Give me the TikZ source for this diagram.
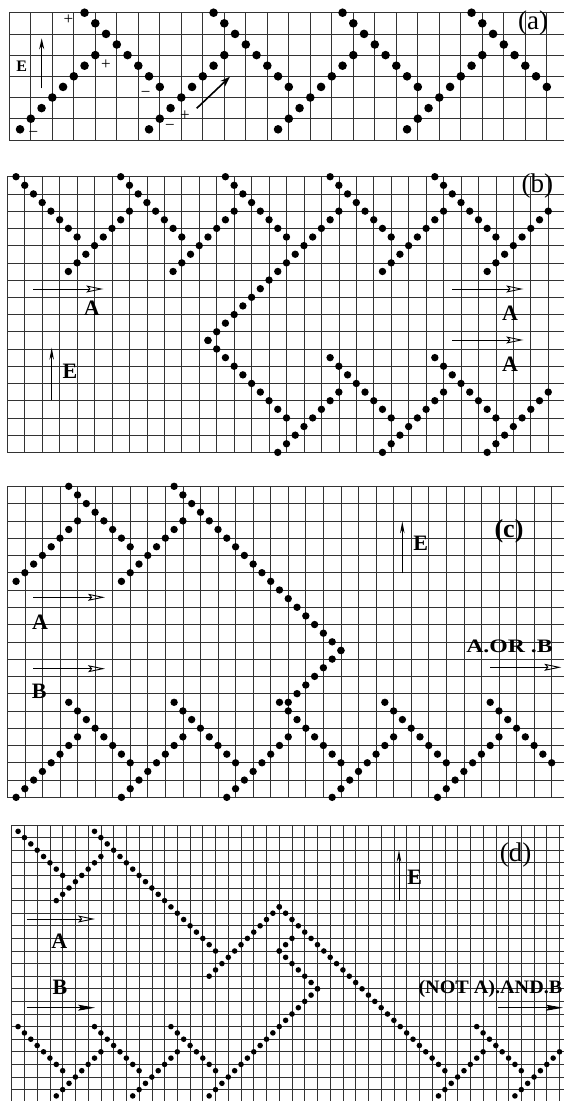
\documentclass[tikz,border=0pt]{standalone}
\usepackage{fontspec}
\setmainfont{Liberation Serif}
\usetikzlibrary{arrows.meta}
\tikzset{
  gridline/.style={line width=0.65pt, black!80},
  lbl/.style={font=\bfseries\fontsize{22}{22}\selectfont, inner sep=0pt},
  elbl/.style={font=\bfseries\fontsize{22}{22}\selectfont, inner sep=0pt},
  panellbl/.style={font=\fontsize{27}{27}\selectfont, inner sep=0pt},
  sgn/.style={font=\fontsize{17}{17}\selectfont, inner sep=0pt},
  sigarrow/.style={line width=0.9pt, -{Stealth[open,length=17pt,width=7pt,inset=3pt]}},
  fillarrow/.style={line width=0.9pt, -{Stealth[length=17pt,width=6pt,inset=3pt]}},
  earrow/.style={line width=1pt, -{Stealth[length=12pt,width=4.5pt]}},
}
\newcommand\upchain[3]{\foreach \i in {1,...,#3}{\fill (#1+0.5*\i-0.5, #2-0.5*\i+0.5) circle[radius=\dotr];}}
\newcommand\dnchain[3]{\foreach \i in {1,...,#3}{\fill (#1+0.5*\i-0.5, #2+0.5*\i-0.5) circle[radius=\dotr];}}
\begin{document}
\begin{tikzpicture}[x=1pt,y=-1pt]
\clip (0,0) rectangle (564,1101);
\fill[white] (0,0) rectangle (564,1101);
% ---------------- panel (a)
\begin{scope}[shift={(9.3,12.7)}, x=21.5pt, y=-21.2pt]
  \def\dotr{4.3pt}
  \foreach \c in {0,...,25} \draw[gridline] (\c,0) -- (\c,6);
  \foreach \r in {0,...,6} \draw[gridline] (0,\r) -- (27,\r);
  \foreach \k in {0,6,12,18} {\upchain{0.5+\k}{5.5}{8} \dnchain{3.5+\k}{0}{8}}
\end{scope}
\node[font=\bfseries\fontsize{16}{16}\selectfont, inner sep=0pt] (Ea) at (21.7,66) {E};
\coordinate (Ea0) at (41.7,88.3); \coordinate (Ea1) at (41.7,38.3);
\draw[line width=1.4pt, -{Stealth[length=11pt,width=5pt]}] (Ea0) -- (Ea1);
\coordinate (da0) at (196.7,108.3); \coordinate (da1) at (230,76.7);
\draw[line width=1.6pt, -{Stealth[length=10pt,width=7pt]}] (da0) -- (da1);
\node[panellbl] (pa) at (533,23) {(a)};
\node[sgn] (s1) at (68.3,20) {+};
\node[sgn] (s2) at (106,65) {+};
\node[sgn] (s3) at (33.3,134) {−};
\node[sgn] (s4) at (145.7,94.3) {−};
\node[sgn] (s5) at (170,127.7) {−};
\node[sgn] (s6) at (185,115.7) {+};
% ---------------- panel (b)
\begin{scope}[shift={(7.3,176.7)}, x=17.45pt, y=-17.23pt]
  \def\dotr{3.7pt}
  \foreach \c in {0,...,31} \draw[gridline] (\c,0) -- (\c,16);
  \foreach \r in {0,...,16} \draw[gridline] (0,\r) -- (33,\r);
  \foreach \k in {0,6,12,18,24} {\dnchain{0.5+\k}{0}{8}}
  \upchain{3.5}{5.5}{8} \upchain{9.5}{5.5}{8} \upchain{11.5}{9.5}{16}
  \upchain{21.5}{5.5}{8} \upchain{27.5}{5.5}{8}
  \dnchain{11.5}{9.5}{10} \dnchain{18.5}{10.5}{8} \dnchain{24.5}{10.5}{8}
  \upchain{15.5}{16}{8} \upchain{21.5}{16}{8} \upchain{27.5}{16}{8}
\end{scope}
\coordinate (ba0) at (33.3,289); \coordinate (ba1) at (103.3,289);
\draw[sigarrow] (ba0) -- (ba1);
\node[lbl] (bA) at (91.7,308.3) {A};
\coordinate (be0) at (51.7,400); \coordinate (be1) at (51.7,347.7);
\draw[earrow] (be0) -- (be1);
\node[elbl] (bE) at (70,371.7) {E};
\coordinate (bb0) at (452.3,289); \coordinate (bb1) at (523.3,289);
\draw[sigarrow] (bb0) -- (bb1);
\node[lbl] (bA2) at (510,313.3) {A};
\coordinate (bc0) at (452.3,340); \coordinate (bc1) at (523.3,340);
\draw[sigarrow] (bc0) -- (bc1);
\node[lbl] (bA3) at (510,364.3) {A};
\node[panellbl] (pb) at (537.3,185.7) {(b)};
% ---------------- panel (c)
\begin{scope}[shift={(7.3,486.3)}, x=17.56pt, y=-17.28pt]
  \def\dotr{3.7pt}
  \foreach \c in {0,...,31} \draw[gridline] (\c,0) -- (\c,18);
  \foreach \r in {0,...,18} \draw[gridline] (0,\r) -- (33,\r);
  \upchain{0.5}{5.5}{8} \upchain{6.5}{5.5}{8}
  \dnchain{3.5}{0}{8} \dnchain{9.5}{0}{20}
  \upchain{16}{12.5}{7}
  \foreach \k in {0,6,12,18,24} {\dnchain{3.5+\k}{12.5}{8} \upchain{0.5+\k}{18}{8}}
\end{scope}
\coordinate (ca0) at (33.3,597.3); \coordinate (ca1) at (105,597.3);
\draw[sigarrow] (ca0) -- (ca1);
\node[lbl] (cA) at (40,622) {A};
\coordinate (cb0) at (33.3,668.7); \coordinate (cb1) at (105,668.7);
\draw[sigarrow] (cb0) -- (cb1);
\node[lbl] (cB) at (39.3,691.3) {B};
\coordinate (ce0) at (402.3,573); \coordinate (ce1) at (402.3,521.3);
\draw[earrow] (ce0) -- (ce1);
\node[elbl] (cE) at (420.7,543) {E};
\node[panellbl, font=\bfseries\fontsize{26}{26}\selectfont] (pc) at (509,531.3) {(c)};
\node[lbl, font=\bfseries\fontsize{19}{19}\selectfont] (cor) at (509.5,646.3) {\scalebox{1.25}[1]{A.OR .B}};
\coordinate (co0) at (490,667.3); \coordinate (co1) at (561.3,667.3);
\draw[sigarrow] (co0) -- (co1);
% ---------------- panel (d)
\begin{scope}[shift={(11.7,825)}, x=12.74pt, y=-12.6pt]
  \def\dotr{2.8pt}
  \foreach \c in {0,...,43} \draw[gridline] (\c,0) -- (\c,22);
  \foreach \r in {0,...,21} \draw[gridline] (0,\r) -- (45,\r);
  \dnchain{0.5}{0.5}{8} \upchain{3.5}{6}{8} \dnchain{6.5}{0.5}{20}
  \upchain{15.5}{12}{12} \dnchain{21}{6.5}{27}
  \upchain{21}{10}{3} \dnchain{21}{10}{7} \upchain{15.5}{21.5}{18}
  \foreach \k in {0,6,12,36} {\dnchain{0.5+\k}{16}{8}}
  \foreach \k in {0,6,30,36} {\upchain{3.5+\k}{21.5}{8}}
\end{scope}
\coordinate (dd0) at (26.7,919); \coordinate (dd1) at (95,919);
\draw[sigarrow] (dd0) -- (dd1);
\node[lbl] (dA) at (59.3,941.7) {A};
\coordinate (db0) at (26.7,1007.7); \coordinate (db1) at (95,1007.7);
\draw[fillarrow] (db0) -- (db1);
\node[lbl] (dB) at (60,987.7) {B};
\coordinate (de0) at (399,901); \coordinate (de1) at (399,850);
\draw[earrow] (de0) -- (de1);
\node[elbl] (dE) at (414.7,877.7) {E};
\node[panellbl] (pd) at (515.7,855) {(d)};
\node[lbl, font=\bfseries\fontsize{19}{19}\selectfont, anchor=east] (dnot) at (562.5,989) {\scalebox{1.06}[1]{(NOT A).AND.B}};
\coordinate (dn0) at (498,1007.7); \coordinate (dn1) at (563,1007.7);
\draw[fillarrow] (dn0) -- (dn1);
\end{tikzpicture}
\end{document}
